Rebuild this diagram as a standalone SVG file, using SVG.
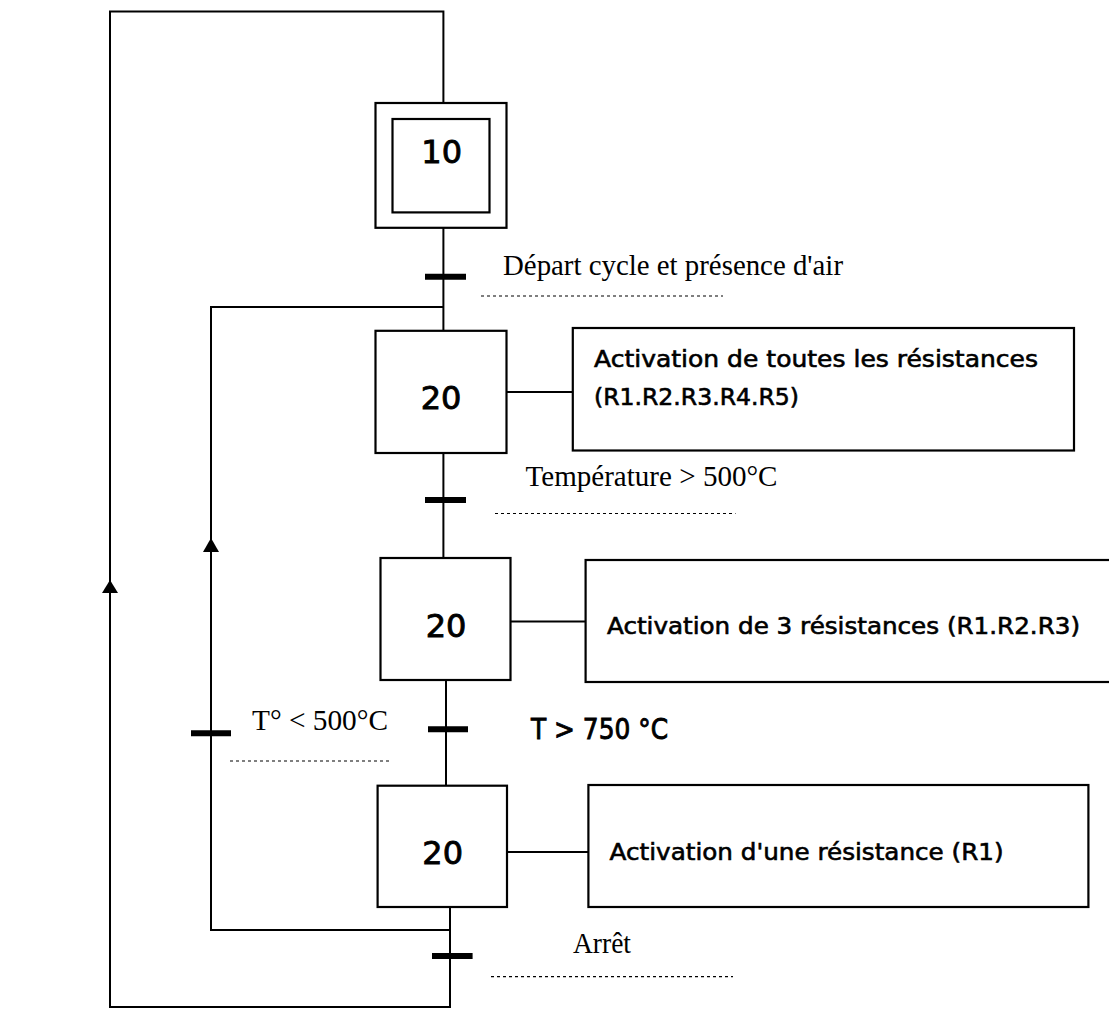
<svg xmlns="http://www.w3.org/2000/svg" width="1109" height="1009" viewBox="0 0 1109 1009">
<style>
.ln{fill:none;stroke:#000;stroke-width:2}
.box{fill:#fff;stroke:#000;stroke-width:2.2}
.bar{stroke:#000;stroke-width:6}
.dot{stroke:#000;stroke-width:1.2;stroke-dasharray:3 3}
.num{font-family:"DejaVu Sans",sans-serif;font-size:32px;text-anchor:middle;fill:#000;stroke:#000;stroke-width:0.9}
.act{font-family:"DejaVu Sans",sans-serif;font-size:23px;fill:#000;stroke:#000;stroke-width:0.6}
.cond{font-family:"Liberation Serif",serif;font-size:29px;fill:#000}
</style>
<rect width="1109" height="1009" fill="#fff"/>
<g id="connectors">
<path class="ln" d="M443.4 103 V11.6 H110 V1007 H450 V907"/>
<path class="ln" d="M443.4 227.8 V330.8"/>
<path class="ln" d="M443.4 453 V558"/>
<path class="ln" d="M446 680 V785.7"/>
<path class="ln" d="M450 930 H211 V307 H443.4"/>
<path d="M110 580 L118 593 L102 593 Z" fill="#000"/>
<path d="M211 538 L219 552 L203 552 Z" fill="#000"/>
<line class="ln" x1="506.4" y1="392" x2="572.8" y2="392"/>
<line class="ln" x1="510.6" y1="621.6" x2="585.6" y2="621.6"/>
<line class="ln" x1="507" y1="852" x2="588.4" y2="852"/>
</g>
<g id="t1">
<line class="bar" x1="425" y1="276.7" x2="466" y2="276.7"/>
<text class="cond" x="503" y="275" textLength="340" lengthAdjust="spacingAndGlyphs">Départ cycle et présence d'air</text>
<line class="dot" x1="481" y1="296" x2="723" y2="296"/>
</g>
<g id="t2">
<line class="bar" x1="425" y1="500" x2="466" y2="500"/>
<text class="cond" x="525.5" y="486" textLength="252" lengthAdjust="spacingAndGlyphs">Température &gt; 500°C</text>
<line class="dot" x1="495" y1="513.5" x2="735.5" y2="513.5"/>
</g>
<g id="t3">
<line class="bar" x1="428" y1="729.3" x2="468" y2="729.3"/>
<text x="531" y="739" font-family="DejaVu Sans, sans-serif" font-size="28" stroke="#000" stroke-width="0.9" textLength="137" lengthAdjust="spacingAndGlyphs">T &gt; 750 °C</text>
</g>
<g id="t4">
<line class="bar" x1="191" y1="733.3" x2="231" y2="733.3"/>
<text class="cond" x="252" y="730" textLength="136" lengthAdjust="spacingAndGlyphs">T° &lt; 500°C</text>
<line class="dot" x1="230" y1="761" x2="391" y2="761"/>
</g>
<g id="t5">
<line class="bar" x1="432" y1="956" x2="472.6" y2="956"/>
<text class="cond" x="573" y="953" textLength="58" lengthAdjust="spacingAndGlyphs">Arrêt</text>
<line class="dot" x1="491" y1="976.7" x2="733" y2="976.7"/>
</g>
<g id="step10">
<rect class="box" x="375.5" y="103" width="131" height="124.8"/>
<rect class="box" x="392.5" y="119" width="97" height="93.4"/>
<text class="num" x="441.7" y="163">10</text>
</g>
<g id="step20a">
<rect class="box" x="375.5" y="330.8" width="131" height="122.2"/>
<text class="num" x="441" y="409">20</text>
</g>
<g id="step20b">
<rect class="box" x="380.5" y="558" width="130" height="122"/>
<text class="num" x="446" y="637">20</text>
</g>
<g id="step20c">
<rect class="box" x="377.6" y="785.7" width="129.4" height="121.3"/>
<text class="num" x="442.7" y="864">20</text>
</g>
<g id="action1">
<rect class="box" x="572.8" y="328" width="501.2" height="122.5"/>
<text class="act" x="594" y="367" textLength="444" lengthAdjust="spacingAndGlyphs">Activation de toutes les résistances</text>
<text class="act" x="594" y="405" textLength="205" lengthAdjust="spacingAndGlyphs">(R1.R2.R3.R4.R5)</text>
</g>
<g id="action2">
<rect class="box" x="585.6" y="560" width="530" height="122"/>
<text class="act" x="607" y="634" textLength="473" lengthAdjust="spacingAndGlyphs">Activation de 3 résistances (R1.R2.R3)</text>
</g>
<g id="action3">
<rect class="box" x="588.4" y="785" width="500" height="122"/>
<text class="act" x="609.6" y="860" textLength="394" lengthAdjust="spacingAndGlyphs">Activation d'une résistance (R1)</text>
</g>
</svg>
